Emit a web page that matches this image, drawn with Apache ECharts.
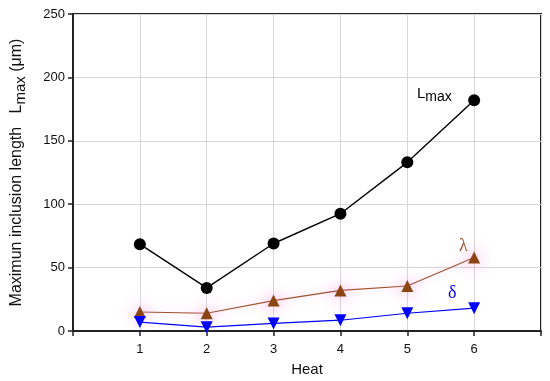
<!DOCTYPE html>
<html><head><meta charset="utf-8">
<script src="https://cdn.jsdelivr.net/npm/echarts@6/dist/echarts.min.js"></script>
<style>html,body{margin:0;padding:0;background:#fff}#c{width:550px;height:381px}</style>
</head><body><div id="c"></div>
<script>
var heats = [1, 2, 3, 4, 5, 6];
var lmax = [68.5, 34, 69, 92.5, 133, 182];
var lambda = [15, 14, 24, 32, 35.5, 58];
var delta = [7, 3, 6, 8.5, 14, 18];
var yTicks = [0, 50, 100, 150, 200, 250];

function pairs(v){ return heats.map(function(h,i){return [h, v[i]];}); }
var F = 'Liberation Sans, Arial, sans-serif';
var chart = echarts.init(document.getElementById('c'), null, {renderer:'canvas'});
chart.setOption({
  animation:false,
  grid:{left:73, right:9, top:14, bottom:50, show:true, borderColor:'#222', borderWidth:2, outerBoundsMode:'none', containLabel:false},
  xAxis:{type:'value', min:0, max:7, interval:1,
    name:'Heat', nameLocation:'middle', nameGap:31,
    nameTextStyle:{fontFamily:F, fontSize:15, color:'#111'},
    axisLine:{onZero:false, lineStyle:{color:'#222', width:2}},
    axisTick:{show:true, inside:false, length:5, lineStyle:{color:'#222', width:1.5}},
    axisLabel:{fontFamily:F, fontSize:13, color:'#111', margin:12,
      formatter:function(v){return (v>=1&&v<=6)?String(v):'';}},
    splitLine:{show:true, lineStyle:{color:'#d6d6d6', width:1}}
  },
  yAxis:{type:'value', min:0, max:250, interval:50,
    name:'{a|Maximun inclusion length   L}{s|max}{a| (μm)}', nameLocation:'middle', nameGap:45, nameRotate:90,
    nameTextStyle:{rich:{a:{fontFamily:F, fontSize:16, color:'#111'}, s:{fontFamily:F, fontSize:15, color:'#111', padding:[7,0,0,0]}}},
    axisLine:{show:true, lineStyle:{color:'#222', width:2}},
    axisTick:{show:true, inside:false, length:5, lineStyle:{color:'#222', width:1.5}},
    axisLabel:{fontFamily:F, fontSize:13, color:'#111', margin:8},
    splitLine:{show:true, lineStyle:{color:'#d6d6d6', width:1}}
  },
  series:[
    {type:'line', data:pairs(lmax), symbol:'circle', symbolSize:12,
      lineStyle:{color:'#000', width:1.4}, itemStyle:{color:'#000'}},
    {type:'line', data:pairs(lambda), symbol:'triangle', symbolSize:12,
      lineStyle:{color:'#a0522d', width:1.2, shadowColor:'rgba(255,150,220,0.7)', shadowBlur:8},
      itemStyle:{color:'#8b4513', shadowColor:'rgba(255,120,210,1)', shadowBlur:16}},
    {type:'line', data:pairs(delta), symbol:'triangle', symbolRotate:180, symbolSize:12,
      lineStyle:{color:'#0000ff', width:1.2}, itemStyle:{color:'#0000ff'}}
  ],
  graphic:[
    {type:'text', left:417, top:86, style:{text:'{a|L}{s|max}', rich:{a:{fontFamily:F, fontSize:15, fill:'#000'}, s:{fontFamily:F, fontSize:14, fill:'#000', padding:[8,0,0,0]}}}},
    {type:'text', left:459, top:237, style:{text:'λ', fontFamily:'Liberation Serif, serif', fontSize:18, fill:'#a0522d'}},
    {type:'text', left:448, top:284, style:{text:'δ', fontFamily:'Liberation Serif, serif', fontSize:18, fill:'#0000ff'}}
  ]
});
</script></body></html>
